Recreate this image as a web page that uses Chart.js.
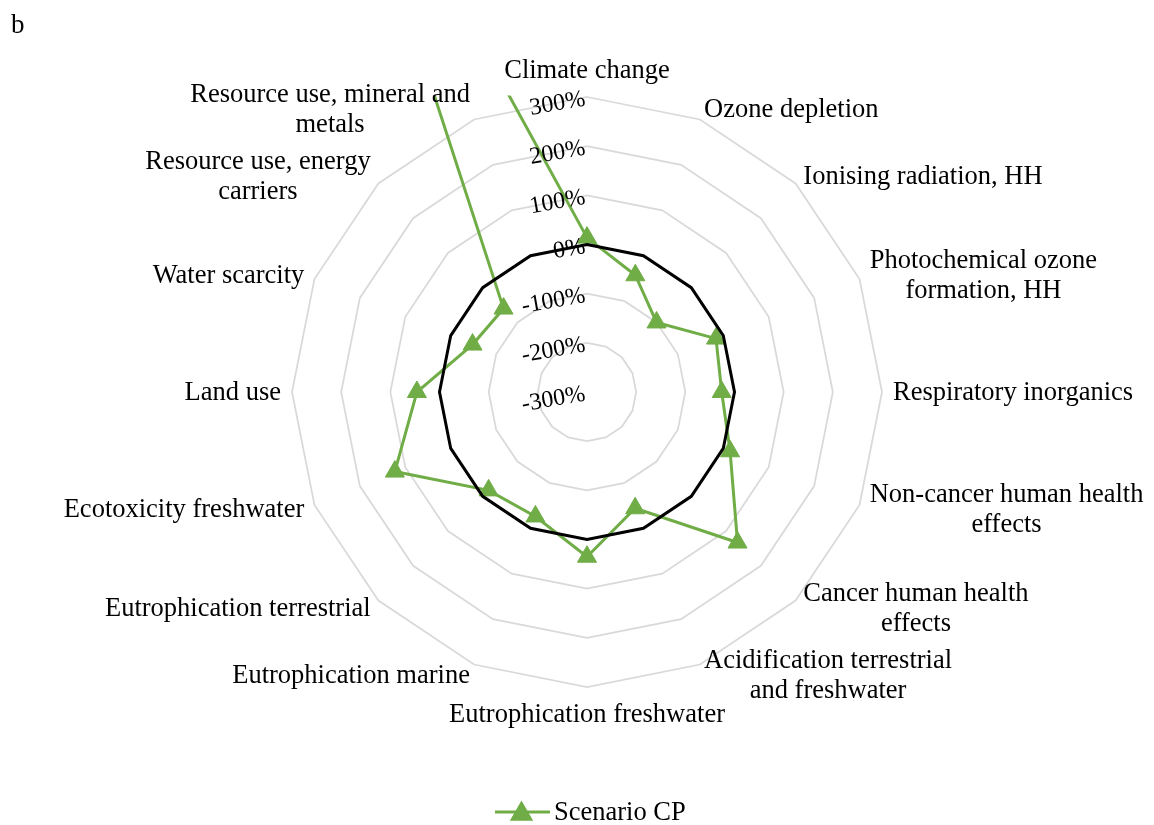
<!DOCTYPE html>
<html>
<head>
<meta charset="utf-8">
<title>Scenario CP</title>
<script src="https://cdn.jsdelivr.net/npm/chart.js@4.4.1/dist/chart.umd.min.js"></script>
<style>
    body { margin: 0; background: #fff; }
    #wrap { position: relative; width: 1154px; height: 825px; }
</style>
</head>
<body>
<div id="wrap">
    <canvas id="radarChart" width="1154" height="825"></canvas>
</div>
<script>
// categories, clockwise from the top
const categories = [
    'Climate change',
    'Ozone depletion',
    'Ionising radiation, HH',
    ['Photochemical ozone', 'formation, HH'],
    'Respiratory inorganics',
    ['Non-cancer human health', 'effects'],
    ['Cancer human health', 'effects'],
    ['Acidification terrestrial', 'and freshwater'],
    'Eutrophication freshwater',
    'Eutrophication marine',
    'Eutrophication terrestrial',
    'Ecotoxicity freshwater',
    'Land use',
    'Water scarcity',
    ['Resource use, energy', 'carriers'],
    ['Resource use, mineral and', 'metals']
];

// percent change, Scenario CP
const scenarioCP = [14, -43, -100, -16, -26, 15, 133, -44, 35, -26, -17, 123, 46, -48, -60, 1090];

// reference line at 0%
const baseline = [0, 0, 0, 0, 0, 0, 0, 0, 0, 0, 0, 0, 0, 0, 0, 0];

const tickValues = [300, 200, 100, 0, -100, -200, -300];
const tickLabels = ['300%', '200%', '100%', '0%', '-100%', '-200%', '-300%'];

const seriesName = 'Scenario CP';
const panelLetter = 'b';

const GREEN = '#70AD47';
const FONT = '"Liberation Serif", "Times New Roman", serif';

// clips the lines at the plot area like Excel does, then draws axis text on top
const excelLook = {
    id: 'excelLook',
    beforeDatasetsDraw(chart) {
        var r = chart.scales.r;
        var ctx = chart.ctx;
        ctx.save();
        ctx.beginPath();
        ctx.rect(0, r.yCenter - r.drawingArea - 1.5, chart.width, chart.height);
        ctx.clip();
    },
    afterDatasetsDraw(chart) {
        var ctx = chart.ctx;
        var r = chart.scales.r;
        ctx.restore();

        // value axis labels, slightly tilted
        ctx.save();
        ctx.font = '24px ' + FONT;
        ctx.fillStyle = '#000';
        ctx.textAlign = 'right';
        ctx.textBaseline = 'middle';
        for (var i = 0; i < tickValues.length; i++) {
            var y = r.yCenter - r.getDistanceFromCenterForValue(tickValues[i]) + 2;
            ctx.save();
            ctx.translate(r.xCenter - 2, y);
            ctx.rotate(-10 * Math.PI / 180);
            ctx.fillText(tickLabels[i], 0, 0);
            ctx.restore();
        }
        ctx.restore();

        // category labels
        ctx.save();
        ctx.font = '26.5px ' + FONT;
        ctx.fillStyle = '#000';
        ctx.textAlign = 'center';
        ctx.textBaseline = 'alphabetic';
        var n = chart.data.labels.length;
        for (var j = 0; j < n; j++) {
            var lines = [].concat(chart.data.labels[j]);
            var a = j * 2 * Math.PI / n;
            var s = Math.sin(a), c = Math.cos(a);
            var p = r.getPointPosition(j, r.drawingArea + 11);
            var w = Math.max.apply(null, lines.map(t => ctx.measureText(t).width));
            var h = lines.length * 30;
            var left, top;
            if (Math.abs(s) < 0.01) {
                left = p.x - w / 2;
                top = c > 0 ? p.y - h - 1 : p.y + 1;
            } else {
                left = s > 0 ? p.x : p.x - w;
                top = p.y - h / 2;
            }
            lines.forEach((t, k) => ctx.fillText(t, left + w / 2, top + 23 + 30 * k));
        }
        ctx.restore();
    },
    afterDraw(chart) {
        var ctx = chart.ctx;
        ctx.save();
        // legend
        ctx.strokeStyle = GREEN;
        ctx.fillStyle = GREEN;
        ctx.lineWidth = 3;
        ctx.beginPath();
        ctx.moveTo(495, 812);
        ctx.lineTo(550, 812);
        ctx.stroke();
        Chart.helpers.drawPoint(ctx, { pointStyle: 'triangle', radius: 10.5, rotation: 0, borderWidth: 1 }, 521.5, 814);
        ctx.fillStyle = '#000';
        ctx.font = '26.5px ' + FONT;
        ctx.textAlign = 'left';
        ctx.textBaseline = 'alphabetic';
        ctx.fillText(seriesName, 554, 820);
        // panel letter
        ctx.font = '27px ' + FONT;
        ctx.fillText(panelLetter, 11, 33);
        ctx.restore();
    }
};

var ctx = document.getElementById('radarChart').getContext('2d');

var radarChart = new Chart(ctx, {
    type: 'radar',
    data: {
        labels: categories,
        datasets: [{
            label: 'Baseline',
            data: baseline,
            borderColor: '#000',
            borderWidth: 3,
            pointRadius: 0,
            fill: false,
            order: 0,
            clip: false
        }, {
            label: seriesName,
            data: scenarioCP,
            borderColor: GREEN,
            backgroundColor: GREEN,
            borderWidth: 3,
            pointStyle: 'triangle',
            pointRadius: 11,
            pointHoverRadius: 11,
            pointBackgroundColor: GREEN,
            pointBorderColor: GREEN,
            pointBorderWidth: 1,
            fill: false,
            order: 1,
            clip: false
        }]
    },
    options: {
        responsive: false,
        animation: false,
        layout: {
            padding: { left: 292, right: 271, top: 97, bottom: 137 }
        },
        elements: {
            line: { tension: 0 }
        },
        scales: {
            r: {
                min: -300,
                max: 300,
                ticks: { stepSize: 100, display: false },
                grid: {
                    color: c => (c.tick && c.tick.value === -300) ? 'rgba(0,0,0,0)' : '#D9D9D9',
                    lineWidth: 1.75
                },
                angleLines: { display: false },
                pointLabels: { display: false }
            }
        },
        plugins: {
            legend: { display: false },
            tooltip: { enabled: false }
        }
    },
    plugins: [excelLook]
});
</script>
</body>
</html>
